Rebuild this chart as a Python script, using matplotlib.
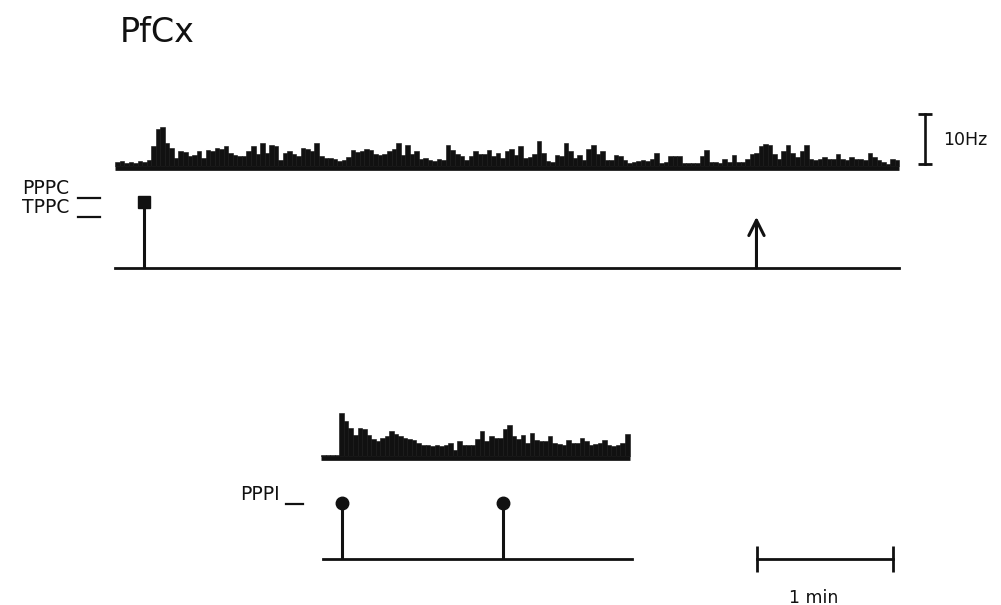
import numpy as np
import matplotlib
matplotlib.use('Agg')
import matplotlib.pyplot as plt

# firing rate (Hz), 2 s bins, upper record (PfCx neuron, PPPC / TPPC)
rate_top = [
    0.8, 1.0, 0.6, 0.8, 0.7, 1.0, 0.8, 1.2, 4.0, 7.5,
    7.8, 4.7, 3.7, 1.7, 3.0, 2.8, 2.0, 2.2, 3.0, 1.7,
    3.3, 3.0, 3.7, 3.5, 4.0, 2.7, 2.3, 2.0, 2.0, 3.0,
    4.0, 2.5, 4.7, 2.7, 4.3, 4.0, 1.3, 2.7, 3.0, 2.5,
    2.0, 3.7, 3.5,
    3.0, 4.7, 2.0, 1.7, 1.7, 1.5, 1.0, 1.2, 1.8, 3.3,
    2.8, 3.0, 3.5, 3.2, 2.5, 2.3, 2.5, 3.0, 3.5, 4.7,
    2.3, 4.3, 2.5, 3.0, 1.5, 1.7, 1.2, 1.0, 1.5, 1.2,
    4.3, 3.3, 2.5, 2.0, 1.3, 2.0, 3.0, 2.5, 2.5, 3.3,
    2.0, 2.7, 1.7,
    3.0, 3.5, 2.3, 4.0, 1.7, 1.8, 2.5, 5.0, 2.7, 1.0,
    0.8, 2.3, 2.0, 4.7, 3.0, 1.7, 2.3, 1.3, 3.5, 4.3,
    2.5, 3.0, 1.3, 1.3, 2.3, 2.0, 1.3, 0.7, 0.8, 1.0,
    1.3, 1.0, 1.5, 2.7, 0.7, 0.8, 2.0, 2.0, 2.0, 0.7,
    0.7, 0.7, 0.7,
    2.0, 3.3, 0.8, 0.8, 0.6, 1.5, 0.8, 2.3, 0.8, 0.8,
    1.5, 2.5, 2.7, 4.0, 4.5, 4.3, 2.5, 1.5, 3.0, 4.3,
    2.7, 1.8, 3.0, 4.3, 1.5, 1.2, 1.5, 1.8, 1.5, 1.5,
    2.5, 1.5, 1.2, 1.8, 1.5, 1.5, 1.2, 2.7, 1.8, 1.2,
    0.8, 0.5, 1.5, 1.2,
]
top_start = 0.0

# lower record (PPPI)
rate_bottom = [
    0.3, 0.3, 0.3, 0.3, 8.7, 7.0, 5.7, 4.3, 5.7, 5.5,
    4.3, 3.5, 3.0, 3.7, 4.0, 5.0, 4.5, 4.0, 3.7, 3.5,
    3.3, 2.7, 2.3, 2.3, 2.0, 2.3, 2.0, 2.3, 2.7, 1.3,
    3.0, 2.3, 2.3, 2.3,
    3.5, 5.0, 3.0, 4.0, 3.7, 3.7, 5.5, 6.3, 4.0, 3.5,
    4.3, 2.7, 4.7, 3.3, 3.0, 3.0, 4.0, 2.7, 2.5, 2.3,
    3.3, 2.7, 2.7, 3.7, 3.0, 2.3, 2.5, 2.7, 3.3, 2.3,
    2.0, 2.3, 2.7, 4.5,
]
bottom_start = 91.0
bin_w = 2.0

# event times (s)
pppc_times = [12.8]
tppc_times = [283.0]
pppi_times = [100.0, 171.0]

# row levels of the event markers
levels = {'PPPC': 2.0, 'TPPC': 1.55, 'PPPI': 1.7}

# --- layout (pixels) ---
W, H = 1001, 605
T0_PX = 115
PX_PER_S = 136 / 60.0
XLIM = (-T0_PX / PX_PER_S, (W - T0_PX) / PX_PER_S)

fig = plt.figure(figsize=(W / 100, H / 100), dpi=100)
fig.patch.set_facecolor('white')
INK = '#111111'


def add_row(top_px, bottom_px, zero_px, px_per_unit):
    ax = fig.add_axes([0, 1 - bottom_px / H, 1, (bottom_px - top_px) / H])
    ax.set_xlim(XLIM)
    ax.set_ylim((zero_px - bottom_px) / px_per_unit, (zero_px - top_px) / px_per_unit)
    ax.axis('off')
    return ax


def histo(ax, start, vals):
    t = start + bin_w * np.arange(len(vals))
    ax.bar(t, vals, width=bin_w, align='edge', color=INK, linewidth=0.4, edgecolor=INK)
    ax.plot([start, start + bin_w * len(vals)], [-0.45, -0.45], color=INK, lw=3.4,
            solid_capstyle='butt')


def label(ax, text, level, x_text, x_dash):
    ax.text(x_text, level + 0.28, text, ha='right', va='center', fontsize=13.5,
            color=INK, family='DejaVu Sans')
    ax.plot(x_dash, [level, level], color=INK, lw=1.6)


# top histogram (5 px per Hz)
ax1 = add_row(95, 180, 166, 5)
histo(ax1, top_start, rate_top)
# 10 Hz calibration bar
x_cal = (925 - T0_PX) / PX_PER_S
ax1.plot([x_cal, x_cal], [0.4, 10.4], color=INK, lw=1.9, marker='_', markersize=10,
         markeredgewidth=2)
ax1.text(x_cal + 8, 5.2, '10Hz', ha='left', va='center', fontsize=12.5, color=INK)

# top event row
ev = 33.0
ax2 = add_row(182, 280, 268, ev)
t_end = top_start + bin_w * len(rate_top)
ax2.plot([0, t_end], [0, 0], color=INK, lw=2.0)
ax2.vlines(pppc_times, 0, levels['PPPC'], color=INK, lw=2.2)
ax2.plot(pppc_times, [levels['PPPC']] * len(pppc_times), 's', color=INK, markersize=8)
for t in tppc_times:
    ax2.annotate('', xy=(t, levels['TPPC']), xytext=(t, 0),
                 arrowprops=dict(arrowstyle='->,head_width=0.55,head_length=1.1',
                                 lw=2.2, color=INK, shrinkA=0, shrinkB=0,
                                 mutation_scale=10))
label(ax2, 'PPPC', levels['PPPC'] + 0.13, -20.0, [-16.3, -6.8])
label(ax2, 'TPPC', levels['TPPC'], -20.0, [-16.3, -6.8])

# bottom histogram
ax3 = add_row(395, 470, 456, 5)
histo(ax3, bottom_start, rate_bottom)

# bottom event row + time scale bar
ax4 = add_row(480, 605, 559, ev)
b_end = bottom_start + bin_w * len(rate_bottom)
ax4.plot([bottom_start + 0.7, b_end + 1.0], [0, 0], color=INK, lw=2.0)
ax4.vlines(pppi_times, 0, levels['PPPI'], color=INK, lw=2.2)
ax4.plot(pppi_times, [levels['PPPI']] * len(pppi_times), 'o', color=INK, markersize=9)
label(ax4, 'PPPI', levels['PPPI'] - 0.02, (280 - T0_PX) / PX_PER_S,
      [(286 - T0_PX) / PX_PER_S, (303 - T0_PX) / PX_PER_S])

x_bar = (757 - T0_PX) / PX_PER_S
ax4.plot([x_bar, x_bar + 60], [0, 0], color=INK, lw=2.0, marker='|', markersize=19,
         markeredgewidth=2)
ax4.text(x_bar + 25, -1.18, '1 min', ha='center', va='center', fontsize=12.5, color=INK)

fig.text(120 / W, 1 - 33 / H, 'PfCx', ha='left', va='center', fontsize=24, color=INK)

fig.savefig('out.png', dpi=100, facecolor='white')
